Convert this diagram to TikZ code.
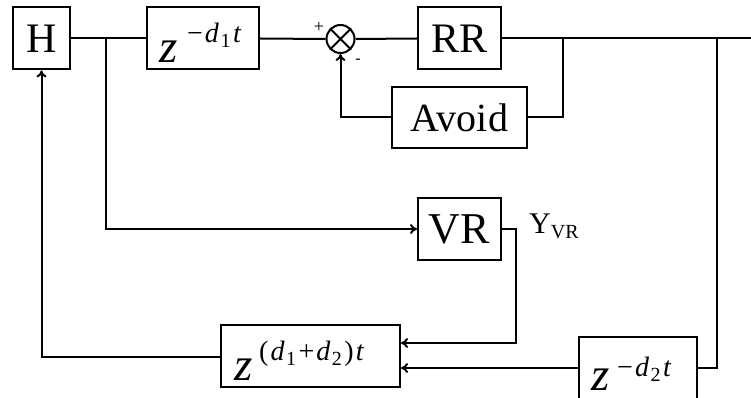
\documentclass[tikz,border=0pt]{standalone}
\usepackage{fontspec}
\setmainfont{Liberation Serif}
\usetikzlibrary{arrows.meta}
\newcommand{\fs}[1]{\fontsize{#1}{#1}\selectfont}
\newcommand{\sub}[1]{\hspace{1.5pt}\raisebox{-5pt}{\fs{20}\upshape #1}\hspace{2.5pt}}
\begin{document}
\begin{tikzpicture}[x=1pt,y=-1pt,
  blk/.style={draw,line width=2pt,inner sep=0pt,minimum width=#1,minimum height=62pt},
  wire/.style={line width=2pt},
  zt/.style={anchor=base west,inner sep=0pt,font=\fs{47}\itshape},
  et/.style={anchor=base west,inner sep=0pt,font=\fs{28}},
  arr/.style={wire,-{To[length=7pt,width=10pt]}}]
\useasboundingbox (0,0) rectangle (751,398);
\node[blk=57pt,font=\fs{42}] (H) at (41.5,38.5) {H};
\node[blk=112pt] (Z1) at (203,38.5) {};
\node[zt] (Z1z) at (159,63) {z};
\node[et] (Z1e) at (187,43) {−\hspace{2pt}\textit{d}\sub{1}\textit{t}};
\node[draw,circle,line width=2pt,minimum size=28pt,inner sep=0pt] (S) at (340.5,39) {};
\draw[line width=2pt] (S.north west) -- (S.south east) (S.north east) -- (S.south west);
\node[font=\fs{18}] (plus) at (319,27) {+};
\node[font=\fs{16}] (minus) at (358,61) {-};
\node[blk=83pt,font=\fs{42}] (RR) at (459.5,38.5) {RR};
\node[blk=135pt,minimum height=61pt,font=\fs{40}] (AV) at (459.5,117.5) {Avoid};
\node[blk=83pt,font=\fs{44}] (VR) at (459.5,229) {VR};
\node[anchor=base west,inner sep=0pt,font=\fs{30}] (Y) at (529,233) {Y\raisebox{-5pt}{\fs{20}VR}};
\node[blk=179pt] (Z12) at (310.5,356) {};
\node[zt] (Z12z) at (234,380) {z};
\node[et] (Z12e) at (259,360) {(\hspace{2pt}\textit{d}\sub{1}+\hspace{2pt}\textit{d}\sub{2})\hspace{2pt}\textit{t}};
\node[blk=118pt] (Z2) at (638,368) {};
\node[zt] (Z2z) at (591,390) {z};
\node[et] (Z2e) at (617,376) {−\hspace{2pt}\textit{d}\sub{2}\textit{t}};
\coordinate (J1) at (106,38.5);
\coordinate (J2) at (563,38.5);
\coordinate (J3) at (717,38.5);
\coordinate (E) at (752,38.5);
\coordinate (VRo) at (516,229);
\draw[wire] (H.east) -- (Z1.west);
\draw[wire] (Z1.east) -- (S.west);
\draw[wire] (S.east) -- (RR.west);
\draw[wire] (RR.east) -- (E);
\draw[wire] (J2) |- (AV.east);
\draw[arr] (AV.west) -| (S.south);
\draw[arr] (J1) |- (VR.west);
\draw[arr] (VR.east) -- (VRo) |- ([yshift=13pt]Z12.east);
\draw[wire] (J3) |- (Z2.east);
\draw[arr] (Z2.west) -- (Z12.east |- Z2.west);
\draw[arr] ([yshift=-1pt]Z12.west) -| (H.south);
\end{tikzpicture}
\end{document}
